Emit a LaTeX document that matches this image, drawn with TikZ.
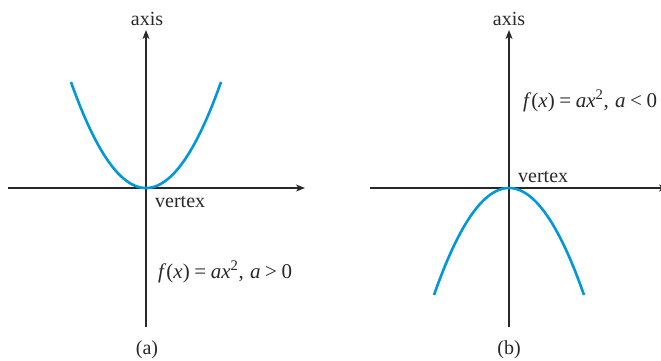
\documentclass[tikz,border=0pt]{standalone}
\usepackage{fontspec}
\setmainfont{Liberation Serif}
\usetikzlibrary{arrows.meta}
\definecolor{curveblue}{RGB}{0,152,216}
\definecolor{axisgray}{RGB}{40,40,40}
\tikzset{
  axisline/.style={draw=axisgray,line width=1.2pt,-{Stealth[length=9pt,width=7pt,inset=2.5pt]}},
  curve/.style={draw=curveblue,line width=2.6pt},
  lbl/.style={inner sep=0pt,font=\fontsize{20}{24}\selectfont,text=axisgray},
  eqlbl/.style={inner sep=0pt,font=\fontsize{21}{25}\selectfont,text=axisgray}
}
\newcommand{\eqtext}[1]{\textit{f}(\textit{x})\hspace{0.22em}=\hspace{0.22em}\textit{ax}\textsuperscript{2},\hspace{0.3em}\textit{a}\hspace{0.22em}#1\hspace{0.22em}0}
\begin{document}
\begin{tikzpicture}[x=1pt,y=-1pt]
\useasboundingbox (0,0) rectangle (661,360);
\clip (0,0) rectangle (661,360);
% panel (a)
\coordinate (ay0) at (146,327);
\coordinate (ay1) at (146,30);
\coordinate (ax0) at (8,188);
\coordinate (ax1) at (305,188);
\draw[axisline] (ay0) -- (ay1);
\draw[axisline] (ax0) -- (ax1);
\draw[curve] plot[domain=-75:75,samples=80,smooth] ({146+\x},{188-106*(\x/75)^2});
\node[lbl,anchor=base] (aaxis) at (147,25) {axis};
\node[lbl,anchor=base west] (avertex) at (155,207) {vertex};
\node[eqlbl,anchor=base west] (aeq) at (158,278) {\eqtext{>}};
\node[lbl,anchor=base] (acap) at (147,354) {(a)};
% panel (b)
\coordinate (by0) at (509,327);
\coordinate (by1) at (509,30);
\coordinate (bx0) at (370,188);
\coordinate (bx1) at (668,188);
\draw[axisline] (by0) -- (by1);
\draw[axisline] (bx0) -- (bx1);
\draw[curve] plot[domain=-75:75,samples=80,smooth] ({509+\x},{188+107*(\x/75)^2});
\node[lbl,anchor=base] (baxis) at (509,25) {axis};
\node[lbl,anchor=base west] (bvertex) at (518,182) {vertex};
\node[eqlbl,anchor=base west] (beq) at (523,107) {\eqtext{<}};
\node[lbl,anchor=base] (bcap) at (509,354) {(b)};
\end{tikzpicture}
\end{document}
